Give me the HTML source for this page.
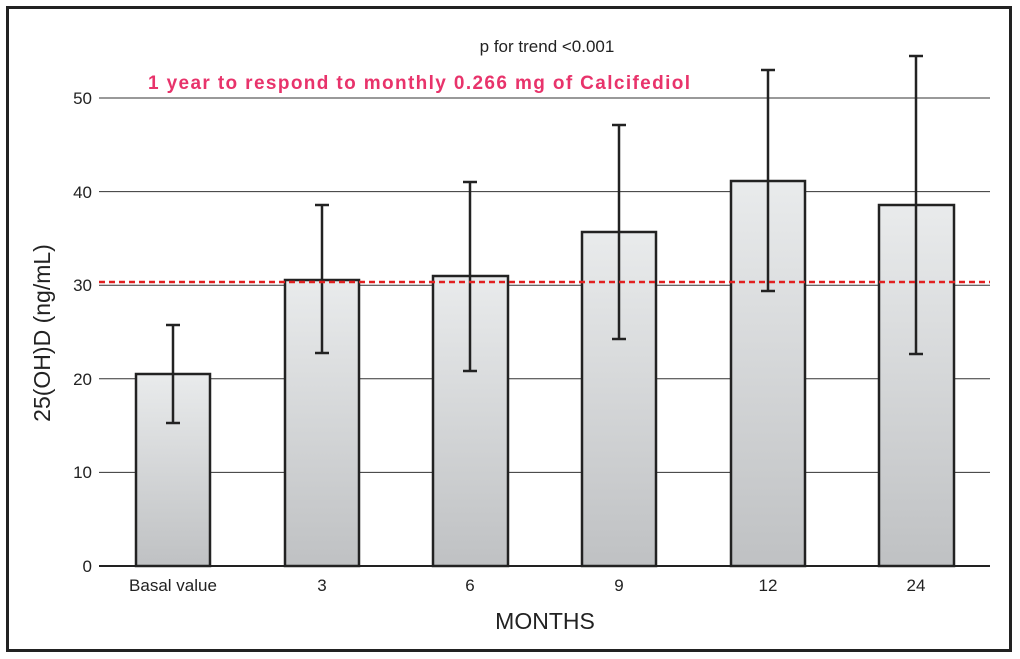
<!DOCTYPE html>
<html><head><meta charset="utf-8"><style>body{margin:0;background:#fff}svg{display:block}</style></head><body>
<svg width="1020" height="659" xmlns="http://www.w3.org/2000/svg" font-family="Liberation Sans, Arial, sans-serif">
<defs><linearGradient id="g" x1="0" y1="0" x2="0" y2="1"><stop offset="0" stop-color="#e9ebec"/><stop offset="1" stop-color="#bfc1c3"/></linearGradient></defs>
<rect x="7.5" y="7.5" width="1003" height="643" fill="#fff" stroke="#222" stroke-width="3"/>
<g stroke="#333" stroke-width="1">
<line x1="99" y1="98" x2="990" y2="98"/><line x1="99" y1="191.6" x2="990" y2="191.6"/><line x1="99" y1="285.2" x2="990" y2="285.2"/><line x1="99" y1="378.8" x2="990" y2="378.8"/><line x1="99" y1="472.4" x2="990" y2="472.4"/>
</g>
<line x1="99" y1="566" x2="990" y2="566" stroke="#222" stroke-width="2"/>
<g font-size="17" fill="#222" text-anchor="end">
<text x="92" y="104">50</text><text x="92" y="198">40</text><text x="92" y="291">30</text><text x="92" y="385">20</text><text x="92" y="478">10</text><text x="92" y="572">0</text>
</g>
<g fill="url(#g)" stroke="#222" stroke-width="2.5">
<rect x="136" y="374" width="74" height="192"/>
<rect x="285" y="280" width="74" height="286"/>
<rect x="433" y="276" width="75" height="290"/>
<rect x="582" y="232" width="74" height="334"/>
<rect x="731" y="181" width="74" height="385"/>
<rect x="879" y="205" width="75" height="361"/>
</g>
<g stroke="#222" stroke-width="2.5">
<line x1="173" y1="325" x2="173" y2="423"/><line x1="166" y1="325" x2="180" y2="325"/><line x1="166" y1="423" x2="180" y2="423"/>
<line x1="322" y1="205" x2="322" y2="353"/><line x1="315" y1="205" x2="329" y2="205"/><line x1="315" y1="353" x2="329" y2="353"/>
<line x1="470" y1="182" x2="470" y2="371"/><line x1="463" y1="182" x2="477" y2="182"/><line x1="463" y1="371" x2="477" y2="371"/>
<line x1="619" y1="125" x2="619" y2="339"/><line x1="612" y1="125" x2="626" y2="125"/><line x1="612" y1="339" x2="626" y2="339"/>
<line x1="768" y1="70" x2="768" y2="291"/><line x1="761" y1="70" x2="775" y2="70"/><line x1="761" y1="291" x2="775" y2="291"/>
<line x1="916" y1="56" x2="916" y2="354"/><line x1="909" y1="56" x2="923" y2="56"/><line x1="909" y1="354" x2="923" y2="354"/>
</g>
<line x1="99" y1="282" x2="990" y2="282" stroke="#e02020" stroke-width="2.5" stroke-dasharray="6,4"/>
<g font-size="17" fill="#222" text-anchor="middle">
<text x="173" y="591">Basal value</text><text x="322" y="591">3</text><text x="470" y="591">6</text><text x="619" y="591">9</text><text x="768" y="591">12</text><text x="916" y="591">24</text>
</g>
<text x="545" y="629" font-size="23" fill="#222" text-anchor="middle">MONTHS</text>
<text transform="translate(50,333) rotate(-90)" font-size="23" fill="#222" text-anchor="middle">25(OH)D (ng/mL)</text>
<text x="547" y="52" font-size="17" fill="#222" text-anchor="middle">p for trend &lt;0.001</text>
<text x="148" y="89" font-size="19" font-weight="bold" fill="#e8336b" textLength="542" lengthAdjust="spacing">1 year to respond to monthly 0.266 mg of Calcifediol</text>
</svg>
</body></html>
